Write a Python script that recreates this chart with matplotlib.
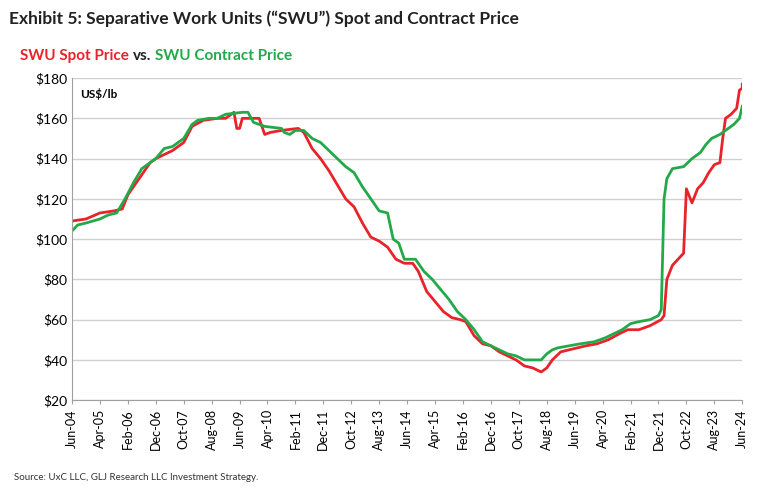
import matplotlib

matplotlib.use("Agg")
import matplotlib.pyplot as plt

plt.rcParams["font.family"] = ["Lato", "DejaVu Sans"]

# month index from Jun-04 (0) to Jun-24 (240), price in US$/lb
spot = [(0, 109), (5, 110), (10, 113), (15, 114), (18, 115), (20, 122), (23, 128), (25, 132),
        (28, 138), (30, 140), (33, 142), (36, 144), (40, 148), (43, 156), (47, 159), (52, 160),
        (55, 160), (58, 163), (59, 155), (60, 155), (61, 160), (65, 160), (67, 160), (69, 152),
        (71, 153), (75, 154), (81, 155), (83, 153), (86, 145), (89, 140), (92, 134), (95, 127),
        (98, 120), (101, 116), (104, 108), (107, 101), (110, 99), (113, 96), (116, 90), (119, 88),
        (122, 88), (124, 84), (127, 74), (130, 69), (133, 64), (136, 61), (139, 60), (141, 59),
        (144, 52), (147, 48), (150, 47), (153, 44), (156, 42), (159, 40), (162, 37), (165, 36),
        (168, 34), (170, 36), (172, 40), (175, 44), (178, 45), (181, 46), (184, 47), (188, 48),
        (192, 50), (196, 53), (199, 55), (203, 55), (207, 57), (211, 60), (212, 62), (213, 80),
        (215, 87), (217, 90), (219, 93), (220, 125), (222, 118), (224, 125), (226, 128),
        (228, 133), (230, 137), (232, 138), (233, 150), (234, 160), (236, 162), (238, 165),
        (239, 174), (240, 175), (240, 177)]
contract = [(0, 104), (2, 107), (5, 108), (10, 110), (13, 112), (16, 113), (19, 120), (22, 128),
            (25, 135), (27, 137), (30, 140), (33, 145), (36, 146), (40, 150), (43, 157), (45, 159),
            (49, 160), (52, 160), (55, 162), (61, 163), (63, 163), (65, 158), (69, 156), (75, 155),
            (76, 153), (78, 152), (80, 154), (83, 154), (86, 150), (89, 148), (92, 144), (95, 140),
            (98, 136), (101, 133), (104, 126), (107, 120), (110, 114), (113, 113), (115, 100),
            (117, 98), (119, 90), (123, 90), (126, 84), (129, 80), (132, 75), (135, 70), (138, 64),
            (141, 60), (144, 55), (147, 49), (150, 47), (153, 45), (156, 43), (159, 42), (162, 40),
            (166, 40), (168, 40), (170, 43), (172, 45), (174, 46), (178, 47), (182, 48), (187, 49),
            (191, 51), (194, 53), (197, 55), (200, 58), (203, 59), (207, 60), (210, 62), (211, 65),
            (212, 120), (213, 130), (215, 135), (219, 136), (222, 140), (225, 143), (227, 147),
            (229, 150), (232, 152), (235, 155), (237, 157), (239, 160), (240, 166)]

tick_labels = ["Jun-04", "Apr-05", "Feb-06", "Dec-06", "Oct-07", "Aug-08", "Jun-09", "Apr-10",
               "Feb-11", "Dec-11", "Oct-12", "Aug-13", "Jun-14", "Apr-15", "Feb-16", "Dec-16",
               "Oct-17", "Aug-18", "Jun-19", "Apr-20", "Feb-21", "Dec-21", "Oct-22", "Aug-23",
               "Jun-24"]

RED = "#e8232a"
GREEN = "#22a94a"

fig = plt.figure(figsize=(7.66, 4.88), dpi=100)
ax = fig.add_axes([0.094, 0.18, 0.875, 0.66])

ax.plot([m for m, _ in spot], [v for _, v in spot], color=RED, linewidth=2)
ax.plot([m for m, _ in contract], [v for _, v in contract], color=GREEN, linewidth=2)

ax.set_xlim(0, 240)
ax.set_ylim(20, 180)
ax.set_xticks(range(0, 241, 10))
ax.set_xticklabels(tick_labels, rotation=90, fontsize=9)
ax.set_yticks(range(20, 181, 20))
ax.set_yticklabels([f"${v}" for v in range(20, 181, 20)], fontsize=10)
ax.yaxis.grid(True, color="#d0d0d0", linewidth=1)
ax.set_axisbelow(True)
for s in ["top", "right"]:
    ax.spines[s].set_visible(False)
for s in ["left", "bottom"]:
    ax.spines[s].set_color("#a0a0a0")
ax.tick_params(axis="y", length=0)
ax.tick_params(axis="x", length=3, color="#a0a0a0")
ax.text(3, 172, "US$/lb", fontsize=8.5, fontweight="bold", va="center")

fig.text(0.012, 0.962, "Exhibit 5: Separative Work Units (\u201cSWU\u201d) Spot and Contract Price",
         fontsize=12.5, fontweight="bold", color="#222222", va="center")
y = 0.885
t1 = fig.text(0.026, y, "SWU Spot Price", color=RED, fontsize=11, fontweight="bold", va="center")
fig.canvas.draw()
bb = t1.get_window_extent().transformed(fig.transFigure.inverted())
t2 = fig.text(bb.x1 + 0.005, y, "vs.", color="#222222", fontsize=11, fontweight="bold", va="center")
fig.canvas.draw()
bb = t2.get_window_extent().transformed(fig.transFigure.inverted())
fig.text(bb.x1 + 0.005, y, "SWU Contract Price", color=GREEN, fontsize=11, fontweight="bold",
         va="center")
fig.text(0.018, 0.022, "Source: UxC LLC, GLJ Research LLC Investment Strategy.", fontsize=7,
         color="#333333", va="center")

fig.savefig("out.png", dpi=100)
